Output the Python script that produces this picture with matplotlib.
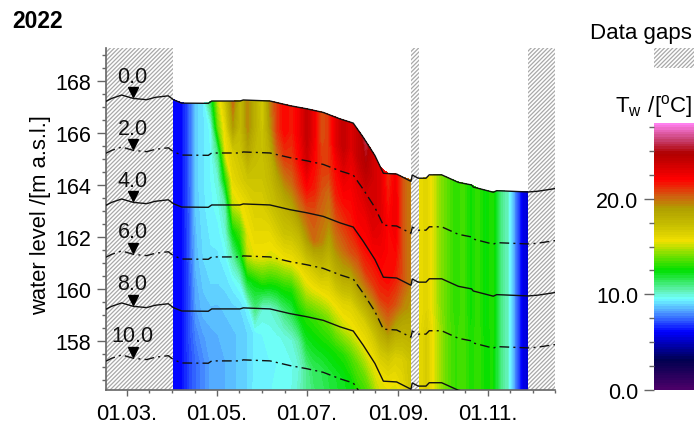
import numpy as np
import matplotlib
matplotlib.use("Agg")
import matplotlib.pyplot as plt
from matplotlib.colors import LinearSegmentedColormap

plt.rcParams["font.family"] = ["Liberation Sans", "DejaVu Sans"]
plt.rcParams["font.size"] = 15.5
plt.rcParams["hatch.linewidth"] = 0.9
plt.rcParams["mathtext.default"] = "regular"

# water surface, day of year vs m a.s.l.
surface_days = [46, 49.8, 56.6, 64.5, 73.5, 79.2, 88.2, 91.6, 97.3, 115.3, 117.6, 136.8, 139, 157.1,
                170.6, 182, 193.2, 204.6, 213.5, 220.3, 228.2, 233.9, 242.9, 252.6, 253.5, 257.6,
                262.8, 265, 273.4, 284.7, 293.7, 294.8, 308.4, 310.7, 332.1, 338.7, 350.2]
surface_level = [167.21, 167.32, 167.45, 167.32, 167.27, 167.36, 167.42, 167.27, 167.14, 167.13, 167.22,
                 167.22, 167.26, 167.22, 167.04, 166.92, 166.78, 166.53, 166.37, 165.82, 165.12, 164.44,
                 164.41, 164.13, 164.37, 164.25, 164.25, 164.38, 164.38, 164.09, 163.99, 163.91, 163.71,
                 163.77, 163.72, 163.75, 163.85]

# sampling days of the temperature columns
days_before_gap = [91.7, 97, 102, 107, 112, 117, 122, 127, 132, 137, 142, 147, 152, 157, 162, 167, 172,
                   177, 182, 187, 192, 197, 202, 207, 212, 217, 222, 227, 232, 237, 242, 247, 252.8]
days_after_gap = [258, 263, 268, 273, 278, 283, 288, 293, 298, 303, 308, 313, 318, 323, 328, 332]
depths = [0, 1, 2, 3, 4, 5, 6, 7, 8, 9, 10, 11.5]

# water temperature per depth, before the September gap
t_0m = [6.0, 6.1, 7.2, 8.9, 9.2, 11.5, 15, 17, 20, 17.5, 19.5, 18, 16.5, 19.5, 21, 22, 21.5, 22.5, 24, 22.5, 20.5, 21, 23, 24, 23, 24, 25.6, 23.5, 23, 21, 22.3, 20.5, 19.5]
t_1m = [6.0, 6.1, 7.2, 8.9, 9.2, 9.6, 14, 16, 19, 17.5, 19.5, 18, 16.8, 19, 21, 22, 21.5, 22.5, 24, 22.5, 20.5, 21, 23, 24, 23, 24, 24.5, 23.5, 23, 21.5, 22.5, 20.5, 19.5]
t_2m = [6, 6.1, 7.2, 8.9, 9.2, 9.5, 11, 15.5, 16.5, 17, 18.5, 17.5, 17.2, 18, 20, 21, 21, 22, 23.5, 22, 21, 21, 22, 23, 22.5, 23, 23.5, 23.5, 23, 22, 22.5, 20.5, 19.5]
t_3m = [6, 6.1, 7.2, 8.9, 9.2, 9.5, 10, 13, 16, 16.5, 17, 17, 17, 17.5, 18.5, 19.5, 20, 21, 22, 21.5, 20.5, 20, 21.5, 22, 22, 22.5, 22.5, 23, 22.5, 22, 22, 20.5, 19.5]
t_4m = [6, 6.1, 7.2, 8.8, 9.2, 9.4, 9.7, 10.5, 15, 15.5, 16, 16.5, 16.5, 17, 17.5, 18, 18.5, 19.5, 20.3, 20.5, 20, 19.5, 20.5, 21, 21.5, 22, 22, 22, 22, 22, 21.5, 20.5, 19.5]
t_5m = [6, 6.1, 7.1, 8.7, 9.1, 9.3, 9.4, 10, 12.5, 13.5, 15.5, 16, 16, 16, 16.5, 17, 17, 17.5, 19, 20, 19.5, 18.5, 19.5, 20, 20.5, 20.5, 21, 21, 21, 21, 20.5, 19.5, 19]
t_6m = [6, 6.1, 7.1, 8.6, 9, 9.2, 9.2, 9.5, 10.5, 12, 15, 15.5, 15.5, 15.3, 15.3, 15.5, 15.6, 16, 16.5, 17, 17.5, 17, 18, 18.5, 18.5, 19, 19, 19, 19, 19.5, 18.5, 18, 18]
t_7m = [6, 6.1, 7, 8.4, 8.8, 9, 9, 9.1, 9.4, 9.8, 12, 12.5, 13, 12.8, 12.8, 13, 13, 14, 15, 15.3, 15.5, 15.7, 16, 16.3, 16.3, 16.5, 16.5, 16.8, 17, 17, 16.5, 16.5, 17]
t_8m = [6, 6.1, 7, 8.2, 8.6, 8.7, 8.7, 8.8, 8.9, 9, 9.4, 11, 10, 10, 10.3, 11, 11.5, 12.5, 13, 13.2, 13.5, 13.8, 14.5, 15, 15.3, 15.4, 15.5, 15.6, 15.6, 15.7, 15.6, 16, 17]
t_9m = [6, 6.1, 7, 7.8, 8.2, 8.4, 8.5, 8.6, 8.7, 8.8, 9, 9.3, 9.5, 9.6, 9.7, 9.8, 10, 10.6, 12, 12.3, 12.5, 12.6, 12.8, 13, 13.5, 13.8, 14, 14.5, 15, 15, 14, 15, 16]
t_10m = [6, 6.1, 6.9, 7.5, 7.9, 8.3, 8.4, 8.5, 8.7, 8.8, 9, 9.3, 9.5, 9.5, 9.5, 9.6, 9.7, 10, 10.8, 11.4, 11.5, 11.8, 12, 12.2, 12.5, 13, 13, 13, 13, 13.5, 13.5, 14, 15]
t_11m = [6, 6.1, 6.9, 7.5, 7.9, 8.3, 8.4, 8.5, 8.7, 8.8, 9, 9.4, 9.5, 9.5, 9.6, 9.6, 9.8, 10.2, 10.8, 11, 11.2, 11.5, 11.8, 12, 12.2, 12.5, 12.5, 12.5, 12.5, 13, 13, 13.5, 14]

# after the gap the lake is mixed, so one profile for the upper and one for the lower part
t_after_upper = [15.6, 16.2, 15.2, 14.2, 13.6, 13, 13.4, 12.6, 13.2, 12.4, 13, 11, 10.2, 8, 5.8, 5.2]
t_after_lower = [15.8, 16.6, 15.4, 14.4, 13.6, 13.2, 13.4, 12.8, 13.2, 12.6, 12.8, 11, 10.2, 8, 5.8, 5.2]

line_depths = [0, 2, 4, 6, 8, 10]
depth_labels = ["0.0", "2.0", "4.0", "6.0", "8.0", "10.0"]
xtick_days = [60, 121, 182, 244, 305]
xtick_labels = ["01.03.", "01.05.", "01.07.", "01.09.", "01.11."]
xminor_days = [75, 91, 106, 136, 152, 167, 197, 213, 228, 259, 274, 289, 320, 335, 350]
gaps = [(46, 91.7), (252.8, 258), (332, 350.2)]

cmap_values = [0, 3, 6, 8.15, 9.5, 10.4, 12.5, 14.4, 15.6, 17.2, 19, 20.3, 22.1, 23.9, 24.9, 26.3, 28]
cmap_colors = ["#4a0068", "#000050", "#0000ff", "#50a0ff", "#70ffff", "#60f0b0", "#00e000", "#90e000",
               "#f0e000", "#c8c000", "#b0a000", "#d06010", "#ff0000", "#c80000", "#b00000", "#c84070", "#ff80f0"]
cmap = LinearSegmentedColormap.from_list("tw", [(v / 28, c) for v, c in zip(cmap_values, cmap_colors)], N=112)

W, H = 694, 427
fig = plt.figure(figsize=(W / 100, H / 100), dpi=100)
ax = fig.add_axes([106 / W, 1 - 391 / H, 449 / W, 342 / H])
cax = fig.add_axes([653.5 / W, 1 - 390.7 / H, 40 / W, 267.2 / H])

upper = [t_0m, t_1m, t_2m, t_3m, t_4m, t_5m]
lower = [t_6m, t_7m, t_8m, t_9m, t_10m, t_11m]
temps = np.array([r + t_after_upper for r in upper] + [r + t_after_lower for r in lower])
grid_days = np.array(days_before_gap + days_after_gap)
top = np.interp(grid_days, surface_days, surface_level)
X = np.tile(grid_days, (len(depths), 1))
Y = np.array([top - d for d in depths])

levels = np.arange(0, 28.25, 0.25)
cs = ax.contourf(X, Y, temps, levels=levels, cmap=cmap, zorder=1)

for x0, x1 in gaps:
    ax.axvspan(x0, x1, facecolor="white", edgecolor="#a8a8a8", hatch="////////", lw=0, zorder=2)

for i, d in enumerate(line_depths):
    ls = "-" if i % 2 == 0 else (0, (7, 3, 1.5, 3))
    ax.plot(surface_days, np.array(surface_level) - d, color="#111111", lw=1.0, ls=ls, zorder=3)
    ax.plot(64, 167.55 - d, marker="v", color="black", ms=7, zorder=4, clip_on=False)
    ax.text(64, 168.18 - d, depth_labels[i], ha="center", va="center", zorder=4, color="#111111")

ax.set_xlim(45.98, 350.2)
ax.set_ylim(156.1, 169.26)
ax.set_xticks(xtick_days, xtick_labels)
ax.set_xticks(xminor_days, minor=True)
ax.set_yticks([158, 160, 162, 164, 166, 168])
ax.set_yticks(np.arange(156.5, 169.5, 0.5), minor=True)
ax.set_ylabel("water level /[m a.s.l.]", labelpad=3, fontsize=15.8, y=0.515)
for side in ("top", "right"):
    ax.spines[side].set_visible(False)
for side in ("left", "bottom"):
    ax.spines[side].set_color("#666666")
    ax.spines[side].set_linewidth(1.2)
ax.tick_params(axis="y", which="major", length=6.5, width=1, color="#666666", pad=4)
ax.tick_params(axis="y", which="minor", length=3.2, width=1, color="#666666")
ax.tick_params(axis="x", which="major", length=4.5, width=1, color="#666666", pad=5, labelsize=15.8)
ax.tick_params(axis="x", which="minor", length=2.2, width=1, color="#666666")

cb = fig.colorbar(cs, cax=cax, ticks=[0, 10, 20])
cb.ax.set_yticklabels(["0.0", "10.0", "20.0"])
cb.ax.yaxis.set_ticks_position("left")
cb.ax.set_yticks(np.arange(2.5, 28, 2.5), minor=True)
cb.ax.tick_params(which="major", length=7, width=1, color="#666666", pad=4)
cb.ax.tick_params(which="minor", length=3.5, width=1, color="#666666")
cb.outline.set_visible(False)

fig.text(12 / W, 1 - 22 / H, "2022", fontweight="bold", va="center", ha="left", fontsize=16.5)
fig.text(692 / W, 1 - 33 / H, "Data gaps", va="center", ha="right", fontsize=16)
fig.text(692 / W, 1 - 107 / H, r"$T_{w}\ /[^{o}C]$", va="center", ha="right", fontsize=16)
fig.patches.append(plt.Rectangle((654 / W, 1 - 69 / H), 40 / W, 20 / H, transform=fig.transFigure,
                                 facecolor="white", edgecolor="#a8a8a8", hatch="////////", lw=0))

fig.savefig("out.png", dpi=100)
